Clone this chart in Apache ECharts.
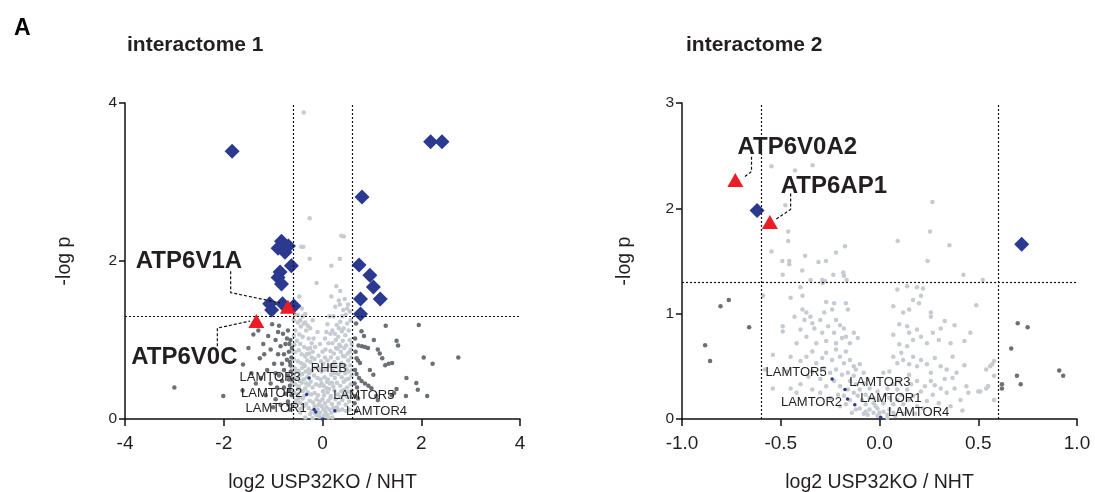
<!DOCTYPE html>
<html>
<head>
<meta charset="utf-8">
<script src="https://cdn.jsdelivr.net/npm/echarts@6/dist/echarts.min.js"></script>
<style>
  html, body { margin: 0; padding: 0; background: #fff; }
  #chart { width: 1095px; height: 492px; }
</style>
</head>
<body>
<div id="chart"></div>
<script>
// ---- interactome 1 (log2 ratio, -log p) ----
const leftLight = [
  [-0.38,3.88],[-0.26,2.54],[-0.43,2.18],[-0.39,2.18],[-0.26,2.03],[0.35,2.03],[0.18,1.94],[0.38,2.32],[0.43,2.31],
  [-0.12,1.72],[0.28,1.68],[0.18,1.55],[0.36,1.62],[0.33,1.5],[0.45,1.52],[0.5,1.4],[0.55,1.36],[0.42,1.38],[0.26,1.42],
  [-0.47,1.55],[-0.52,1.45],[-0.42,1.4],[-0.35,1.33],[-0.55,1.32],
  [-0.58,1.25],[-0.5,1.22],[-0.44,1.17],[-0.38,1.21],[-0.55,1.12],[-0.47,1.07],[-0.4,1.04],[-0.33,1.12],[-0.28,1.02],
  [-0.52,0.99],[-0.57,0.94],[-0.45,0.95],[-0.37,0.91],[-0.3,0.89],[-0.22,0.96],[-0.55,0.85],[-0.48,0.87],[-0.42,0.82],
  [-0.35,0.79],[-0.27,0.83],[-0.2,0.85],[-0.58,0.76],[-0.5,0.73],[-0.44,0.71],[-0.38,0.69],[-0.31,0.74],[-0.24,0.72],
  [-0.16,0.76],[-0.56,0.64],[-0.48,0.61],[-0.41,0.65],[-0.34,0.6],[-0.28,0.63],[-0.21,0.61],[-0.14,0.65],[-0.58,0.54],
  [-0.52,0.51],[-0.45,0.56],[-0.38,0.5],[-0.31,0.53],[-0.24,0.47],[-0.17,0.55],[-0.1,0.52],[-0.55,0.44],[-0.48,0.41],
  [-0.42,0.46],[-0.35,0.39],[-0.28,0.43],[-0.2,0.4],[-0.13,0.44],[-0.06,0.42],[-0.57,0.33],[-0.5,0.31],[-0.44,0.36],
  [-0.37,0.29],[-0.3,0.34],[-0.23,0.31],[-0.16,0.33],[-0.09,0.3],[-0.53,0.24],[-0.46,0.21],[-0.4,0.26],[-0.33,0.19],
  [-0.26,0.23],[-0.19,0.21],[-0.12,0.25],[-0.05,0.22],[-0.45,0.13],[-0.38,0.16],
  [-0.28,0.14],[-0.22,0.1],[-0.16,0.16],[-0.1,0.12],[-0.05,0.08],[-0.25,0.06],[-0.12,0.05],[-0.06,0.03],[0.03,0.04],
  [0.06,0.09],[0.1,0.05],[0.14,0.12],[0.18,0.08],[0.22,0.14],[0.26,0.1],[0.02,0.12],[-0.02,0.16],
  [0.05,0.2],[0.12,0.23],[0.19,0.19],[0.26,0.25],[0.33,0.2],[0.4,0.24],[0.47,0.18],[0.54,0.22],
  [0.03,0.3],[0.1,0.34],[0.17,0.29],[0.24,0.36],[0.31,0.31],[0.38,0.35],[0.45,0.3],[0.52,0.34],[0.58,0.28],
  [0.02,0.42],[0.08,0.39],[0.15,0.45],[0.22,0.41],[0.29,0.46],[0.36,0.42],[0.43,0.47],[0.5,0.4],[0.57,0.44],
  [0.04,0.53],[0.11,0.5],[0.18,0.56],[0.25,0.52],[0.32,0.57],[0.39,0.53],[0.46,0.58],[0.53,0.51],[0.59,0.55],
  [0.07,0.63],[0.14,0.67],[0.21,0.61],[0.28,0.66],[0.35,0.6],[0.42,0.67],[0.49,0.63],[0.56,0.68],
  [0.1,0.74],[0.17,0.78],[0.24,0.72],[0.31,0.77],[0.38,0.71],[0.45,0.79],[0.52,0.74],[0.58,0.78],
  [0.16,0.86],[0.23,0.83],[0.3,0.89],[0.37,0.85],[0.44,0.9],[0.51,0.83],[0.57,0.88],
  [0.2,0.96],[0.27,1.0],[0.34,0.94],[0.41,0.99],[0.48,0.93],[0.55,1.0],
  [0.25,1.08],[0.32,1.04],[0.39,1.11],[0.46,1.06],[0.53,1.12],
  [0.29,1.19],[0.36,1.23],[0.43,1.15],[0.5,1.21],[0.57,1.25],
  [-0.05,0.95],[0.0,0.85],[-0.08,0.8],[0.02,0.7],[-0.02,0.6],[0.05,1.02],[-0.1,1.1],[0.1,1.2],[-0.62,0.45],[-0.63,0.66],
  [-0.45,0.08],[-0.35,0.02],[-0.2,0.01],[-0.15,0.07],[-0.08,0.18],[0.0,0.25],[0.08,0.15],[0.12,0.02],[0.2,0.02],
  [0.16,0.27],[0.09,0.47],[0.01,0.35],[-0.04,0.5],[-0.08,0.64],[-0.03,0.73],[0.05,0.78],[0.06,0.88],[0.12,0.96],
  [0.08,1.1],[0.14,1.3],[0.2,1.12],[-0.52,0.6],[-0.58,0.18],[-0.5,0.38],[-0.46,0.48],[-0.41,0.57],[-0.36,0.67],
  [-0.32,0.82],[-0.25,0.9],[-0.18,1.02],[-0.15,0.91],[-0.22,0.78],[-0.27,0.58],[-0.33,0.45],[-0.4,0.35],[-0.48,0.27],
  [-0.55,0.2],[-0.5,1.32],[-0.45,1.25],[-0.4,1.3],[-0.35,1.22],[-0.3,1.18],[-0.25,1.15],[-0.2,1.25],[-0.58,1.05],
  [-0.6,0.85],[-0.6,0.58],[0.59,0.36],[0.6,0.62],[0.59,0.95],[0.55,0.85],[0.53,0.6],[0.48,0.5],[0.44,0.37],[0.36,0.28],
  [0.29,0.15],[0.33,0.11],[0.4,0.12],[0.48,0.1],[0.55,0.12],[0.5,0.28],[0.46,0.67],[0.41,0.8],[0.36,0.92],[0.33,1.15],
  [0.4,1.3],[0.47,1.32],[0.52,1.45],[0.35,1.45],[0.22,1.3],[0.16,1.08],[0.27,0.9],[0.22,0.68],[0.26,0.58],[0.19,0.46],
  [0.13,0.38],[-0.02,0.45],[0.05,0.62]
];
const leftDark = [
  [-3.0,0.4],[-2.01,0.29],[-1.4,1.07],[-1.27,0.77],[-1.61,0.69],[-1.44,0.58],[-1.62,0.36],[-1.35,0.45],[-1.2,0.95],
  [-1.1,1.05],[-1.05,0.88],[-0.95,1.0],[-0.9,0.82],[-0.85,0.92],[-0.8,1.08],[-0.75,0.95],[-0.7,1.12],[-0.68,0.85],
  [-0.72,0.75],[-0.65,0.68],[-0.78,0.62],[-0.88,0.55],[-0.98,0.7],[-1.12,0.62],[-1.05,0.45],[-0.92,0.4],[-0.82,0.48],
  [-0.7,0.55],[-0.66,0.42],[-0.75,0.32],[-0.95,0.25],[-1.15,0.3],[-0.85,0.18],[-0.7,0.22],[-0.66,0.12],[-1.3,1.12],
  [-1.02,1.2],[-0.88,1.18],[-0.65,1.0],[-0.62,0.9],[-0.63,0.78],[-0.64,0.6],[-0.62,0.5],[-0.63,0.3],
  [-0.67,0.95],[-0.66,0.72],[-0.68,0.5],[-0.67,0.36],[-0.69,0.18],[-0.72,1.02],[-0.78,0.82],[-0.82,0.7],[-0.95,0.58],
  [-1.25,0.52],[-1.18,0.82],[-0.9,1.1],[-1.5,0.9],[-0.78,0.4],[-1.0,0.15],
  [1.28,1.18],[1.95,1.19],[0.79,1.11],[0.68,1.21],[0.84,1.05],[1.04,1.0],[1.5,0.99],[1.53,0.93],[0.73,0.93],
  [0.8,0.92],[0.86,0.91],[0.92,0.9],[1.12,0.88],[1.16,0.83],[1.21,0.77],[2.05,0.78],[2.75,0.78],[2.23,0.7],
  [1.27,0.68],[1.34,0.7],[1.41,0.71],[0.69,0.77],[0.72,0.74],[0.76,0.71],[0.96,0.62],[1.03,0.56],[1.7,0.52],
  [0.66,0.62],[0.69,0.57],[0.74,0.52],[0.79,0.48],[0.86,0.45],[0.93,0.42],[0.99,0.39],[1.9,0.455],[1.93,0.37],
  [1.5,0.38],[1.69,0.29],[2.12,0.29],[1.09,0.29],[1.12,0.24],[0.67,0.29],[0.72,0.26],[0.7,0.4],[0.65,0.2],
  [0.68,0.1],[1.4,0.3],[1.45,0.33],[0.66,1.02],[0.67,0.85],[0.65,0.45]
];
const leftHits = [
  [-1.83,3.39],[2.19,3.51],[2.42,3.51],[0.8,2.81],
  [-0.83,2.25],[-0.9,2.16],[-0.76,2.11],[-0.69,2.19],[-0.63,1.94],[-0.86,1.86],[-0.9,1.79],[-0.83,1.71],
  [0.74,1.95],[0.96,1.82],[1.03,1.67],[1.17,1.52],[0.77,1.52],[0.77,1.33],
  [-1.07,1.46],[-1.03,1.38],[-0.81,1.46],[-0.58,1.43]
];
const leftVatp = [['ATP6V0C',-1.34,1.24],['ATP6V1A',-0.7,1.42]];
const leftRagulator = [
  ['LAMTOR3',-0.27,0.52],['LAMTOR2',-0.32,0.31],['LAMTOR1',-0.17,0.12],
  ['RHEB',-0.135,0.09],['LAMTOR4',0.0,0.0],['LAMTOR5',0.25,0.105]
];

// ---- interactome 2 ----
const rightLight = [
  [-0.547,2.4],[-0.428,2.36],[-0.339,2.41],[-0.477,2.03],[0.268,2.06],[0.256,1.78],[-0.462,1.78],[-0.462,1.69],
  [0.092,1.69],[0.354,1.65],[-0.175,1.64],[-0.547,1.59],[-0.22,1.58],[-0.377,1.55],[-0.492,1.5],[-0.457,1.5],
  [-0.457,1.47],[-0.309,1.49],[-0.271,1.5],[0.243,1.5],[-0.391,1.41],[-0.234,1.37],[-0.183,1.39],[-0.18,1.36],
  [-0.49,1.37],[0.425,1.37],[0.523,1.32],[-0.288,1.29],[-0.276,1.31],[-0.166,1.32],[-0.349,1.32],
  [-0.59,1.17],[-0.45,1.15],[-0.4,1.25],[-0.39,1.17],[-0.39,1.04],[-0.37,1.01],[-0.27,1.11],[-0.24,1.04],[-0.23,1.1],
  [-0.17,1.1],[-0.16,1.04],[-0.29,1.32],[0.09,1.23],[0.14,1.26],[0.19,1.25],[0.22,1.24],[0.21,1.17],[0.17,1.13],
  [0.2,1.1],[0.15,1.04],[0.26,1.01],[0.26,0.97],[0.33,0.93],[0.38,0.89],[0.46,0.82],[0.43,0.74],[0.49,1.08],
  [0.07,1.07],[0.12,1.01],
  [-0.49,0.88],[-0.49,0.83],[-0.43,0.97],[-0.4,0.85],[-0.38,0.94],[-0.35,0.97],[-0.34,0.91],[-0.33,0.86],[-0.3,0.94],
  [-0.29,0.82],[-0.28,1.01],[-0.26,0.88],[-0.23,0.82],[-0.22,0.94],[-0.2,0.89],[-0.18,0.86],[-0.17,0.78],[-0.15,0.72],
  [-0.19,0.77],[-0.22,0.72],[-0.27,0.74],[-0.32,0.72],[-0.37,0.78],[-0.42,0.72],[-0.13,0.82],[-0.11,0.77],
  [0.07,0.8],[0.1,0.9],[0.14,0.88],[0.15,0.82],[0.19,0.85],[0.17,0.75],[0.21,0.78],[0.24,0.72],[0.27,0.82],
  [0.3,0.75],[0.31,0.86],[0.36,0.72],[0.1,0.71],[0.14,0.69],
  [-0.54,0.61],[-0.45,0.59],[-0.4,0.55],[-0.37,0.59],[-0.34,0.64],[-0.32,0.53],[-0.29,0.58],[-0.27,0.63],[-0.24,0.56],
  [-0.22,0.66],[-0.2,0.59],[-0.18,0.53],[-0.17,0.64],[-0.15,0.56],[-0.13,0.5],[-0.12,0.47],[-0.1,0.52],[-0.22,0.47],
  [-0.25,0.44],[-0.28,0.48],[-0.19,0.42],[-0.16,0.44],[-0.13,0.41],[-0.08,0.44],[-0.34,0.45],
  [0.07,0.59],[0.09,0.53],[0.11,0.63],[0.12,0.56],[0.15,0.52],[0.17,0.59],[0.19,0.5],[0.21,0.56],[0.24,0.52],
  [0.26,0.44],[0.28,0.58],[0.31,0.5],[0.34,0.47],[0.37,0.59],[0.39,0.44],[0.43,0.51],[0.54,0.47],[0.57,0.52],
  [0.58,0.41],[0.05,0.45],[0.02,0.44],[0.15,0.42],[0.37,0.39],[0.56,0.5],[0.58,0.55],[0.54,0.29],[0.5,0.26],[0.44,0.31],
  [-0.45,0.29],[-0.4,0.33],[-0.34,0.28],[-0.3,0.25],[-0.27,0.31],[-0.23,0.36],[-0.2,0.31],[-0.21,0.23],[-0.15,0.36],
  [-0.12,0.33],[-0.1,0.28],[-0.07,0.23],[-0.05,0.2],[-0.03,0.15],[-0.01,0.1],[0.0,0.06],[0.02,0.07],[0.04,0.04],
  [-0.03,0.06],[-0.05,0.09],[-0.07,0.14],[-0.09,0.18],[-0.11,0.22],[-0.13,0.25],[-0.15,0.18],[-0.17,0.14],[-0.18,0.22],
  [-0.1,0.1],[-0.07,0.07],[-0.12,0.09],[0.05,0.09],[0.07,0.14],[0.09,0.18],[0.11,0.23],[0.14,0.28],[0.16,0.33],
  [0.19,0.36],[0.07,0.06],[0.1,0.09],[0.12,0.14],[0.15,0.18],[0.17,0.22],[0.21,0.26],[0.23,0.31],[0.26,0.36],
  [0.27,0.23],[0.31,0.29],[0.34,0.25],[0.38,0.29],[0.41,0.18],[0.45,0.25],[0.51,0.26],[0.55,0.31],[0.58,0.18],
  [0.24,0.17],[0.19,0.12],[0.14,0.07],[0.04,0.01],[-0.01,0.03],[-0.06,0.04],[-0.03,0.2],[0.0,0.18],[0.03,0.23],
  [0.05,0.2],[-0.01,0.26],[-0.05,0.29],[-0.08,0.34],[0.04,0.29],[0.07,0.33],[0.1,0.36],[0.09,0.28],
  [-0.47,0.45],[-0.42,0.25],[-0.54,0.29],[-0.58,0.47],
  [-0.02,0.12],[0.02,0.15],[-0.08,0.05],[0.08,0.03],[0.12,0.05],[-0.14,0.06],[-0.2,0.12],[0.18,0.05],[0.22,0.1],
  [-0.25,0.2],[-0.3,0.38],[-0.36,0.4],[0.28,0.32],[0.33,0.38],[0.3,0.15],[0.36,0.12],[0.42,0.08],[-0.16,0.28],[-0.06,0.38]
];
const rightDark = [
  [-0.763,1.13],[-0.805,1.07],[-0.66,0.87],[-0.883,0.7],[-0.858,0.55],[0.7,0.91],[0.75,0.87],
  [0.667,0.67],[0.696,0.41],[0.715,0.33],[0.91,0.46],[0.93,0.41],[0.62,0.33],[0.62,0.29]
];
const rightHits = [[-0.62,1.98],[0.72,1.66]];
const rightVatp = [['ATP6V0A2',-0.73,2.27],['ATP6AP1',-0.555,1.87]];
const rightRagulator = [
  ['LAMTOR5',-0.24,0.38],['LAMTOR3',-0.175,0.28],['LAMTOR2',-0.162,0.19],
  ['LAMTOR1',-0.125,0.136],['LAMTOR4',0.006,0.016]
];

const pThreshold = 1.3;
const foldThreshold = 0.6;

// label placement (pixels from the point)
const labelOffsets = {
  left: {
    ATP6V1A: [-99,-45], ATP6V0C: [-72,36],
    LAMTOR3: [-39,0], LAMTOR2: [-35,-1], LAMTOR1: [-38,-1],
    RHEB: [13,-43], LAMTOR4: [54,-8], LAMTOR5: [29,-15]
  },
  right: {
    ATP6V0A2: [62,-33], ATP6AP1: [64,-36],
    LAMTOR5: [-36,-7], LAMTOR3: [35,-7], LAMTOR2: [-36,3], LAMTOR1: [36,-6], LAMTOR4: [38,-5]
  }
};
// dashed leader lines, in data units
const leaders = {
  left: [[[-1.86,1.87],[-1.86,1.6],[-0.86,1.47]], [[-2.13,0.92],[-2.13,1.15],[-1.47,1.24]]],
  right: [[[-0.648,2.49],[-0.648,2.35],[-0.69,2.29]], [[-0.45,2.14],[-0.45,1.99],[-0.53,1.89]]]
};

const FONT = '"Liberation Sans", Arial, sans-serif';
const LIGHT = '#c6cbd1', DARK = '#6b7076', BLUE = '#2b3990', RED = '#ec1c24', INK = '#231f20';

function axisCommon() {
  return {
    axisLine: { onZero: false, lineStyle: { color: '#111', width: 1.5 } },
    axisTick: { length: 7, lineStyle: { color: '#111', width: 1.5 } },
    splitLine: { show: false },
    nameTextStyle: { fontFamily: FONT, fontSize: 19.5, color: INK }
  };
}

function panelSeries(i, side, light, dark, hits, vatp, ragulator) {
  const offs = labelOffsets[side];
  const s = [
    {
      type: 'scatter', xAxisIndex: i, yAxisIndex: i, data: light, symbolSize: 4.5,
      itemStyle: { color: LIGHT, opacity: 1 }, silent: true,
      markLine: {
        silent: true, symbol: 'none', label: { show: false },
        lineStyle: { color: '#111', type: [2, 2], width: 1.2 },
        data: [{ xAxis: -foldThreshold }, { xAxis: foldThreshold }, { yAxis: pThreshold }]
      }
    },
    { type: 'scatter', xAxisIndex: i, yAxisIndex: i, data: dark, symbolSize: 4.5,
      itemStyle: { color: DARK, opacity: 1 } },
    {
      type: 'scatter', xAxisIndex: i, yAxisIndex: i, symbolSize: 3.5, itemStyle: { color: BLUE, opacity: 1 },
      data: ragulator.map(r => ({
        name: r[0], value: [r[1], r[2]],
        label: { show: true, position: 'inside', offset: offs[r[0]], formatter: '{b}',
          fontFamily: FONT, fontSize: 13, color: INK }
      }))
    },
    { type: 'scatter', xAxisIndex: i, yAxisIndex: i, data: hits, symbol: 'diamond', symbolSize: [15, 15],
      itemStyle: { color: BLUE, opacity: 1 } },
    {
      type: 'scatter', xAxisIndex: i, yAxisIndex: i, symbol: 'triangle', symbolSize: [16, 14],
      itemStyle: { color: RED, opacity: 1 }, z: 5,
      data: vatp.map(r => ({
        name: r[0], value: [r[1], r[2]],
        label: { show: true, position: 'inside', offset: offs[r[0]], formatter: '{b}',
          fontFamily: FONT, fontSize: 24, fontWeight: 'bold', color: INK }
      }))
    }
  ];
  leaders[side].forEach(path => s.push({
    type: 'line', xAxisIndex: i, yAxisIndex: i, data: path, symbol: 'none', silent: true,
    lineStyle: { color: '#111', type: [3, 2], width: 1.2 }
  }));
  return s;
}

const chart = echarts.init(document.getElementById('chart'));
chart.setOption({
  animation: false,
  textStyle: { fontFamily: FONT },
  title: [
    { text: 'A', left: 9, top: 12, textStyle: { fontFamily: FONT, fontSize: 23, fontWeight: 'bold', color: '#000' } },
    { text: 'interactome 1', left: 122, top: 30, textStyle: { fontFamily: FONT, fontSize: 21, fontWeight: 'bold', color: INK } },
    { text: 'interactome 2', left: 681, top: 30, textStyle: { fontFamily: FONT, fontSize: 21, fontWeight: 'bold', color: INK } }
  ],
  grid: [
    { left: 125, top: 103, width: 395, height: 316, outerBoundsMode: 'none', containLabel: false },
    { left: 682, top: 103, width: 395, height: 316, outerBoundsMode: 'none', containLabel: false }
  ],
  xAxis: [
    Object.assign(axisCommon(), {
      gridIndex: 0, type: 'value', min: -4, max: 4, interval: 2,
      name: 'log2 USP32KO / NHT', nameLocation: 'middle', nameGap: 54,
      axisLabel: { fontFamily: FONT, fontSize: 19, color: INK, margin: 15 }
    }),
    Object.assign(axisCommon(), {
      gridIndex: 1, type: 'value', min: -1, max: 1, interval: 0.5,
      name: 'log2 USP32KO / NHT', nameLocation: 'middle', nameGap: 54,
      axisLabel: { fontFamily: FONT, fontSize: 19, color: INK, margin: 15, formatter: v => v.toFixed(1) }
    })
  ],
  yAxis: [
    Object.assign(axisCommon(), {
      gridIndex: 0, type: 'value', min: 0, max: 4, interval: 2,
      name: '-log p', nameLocation: 'middle', nameGap: 50,
      axisTick: { length: 6, lineStyle: { color: '#111', width: 1.5 } },
      axisLabel: { fontFamily: FONT, fontSize: 15.5, color: INK, margin: 8 }
    }),
    Object.assign(axisCommon(), {
      gridIndex: 1, type: 'value', min: 0, max: 3, interval: 1,
      name: '-log p', nameLocation: 'middle', nameGap: 47,
      axisTick: { length: 6, lineStyle: { color: '#111', width: 1.5 } },
      axisLabel: { fontFamily: FONT, fontSize: 15.5, color: INK, margin: 8 }
    })
  ],
  series: [].concat(
    panelSeries(0, 'left', leftLight, leftDark, leftHits, leftVatp, leftRagulator),
    panelSeries(1, 'right', rightLight, rightDark, rightHits, rightVatp, rightRagulator)
  )
});
</script>
</body>
</html>
